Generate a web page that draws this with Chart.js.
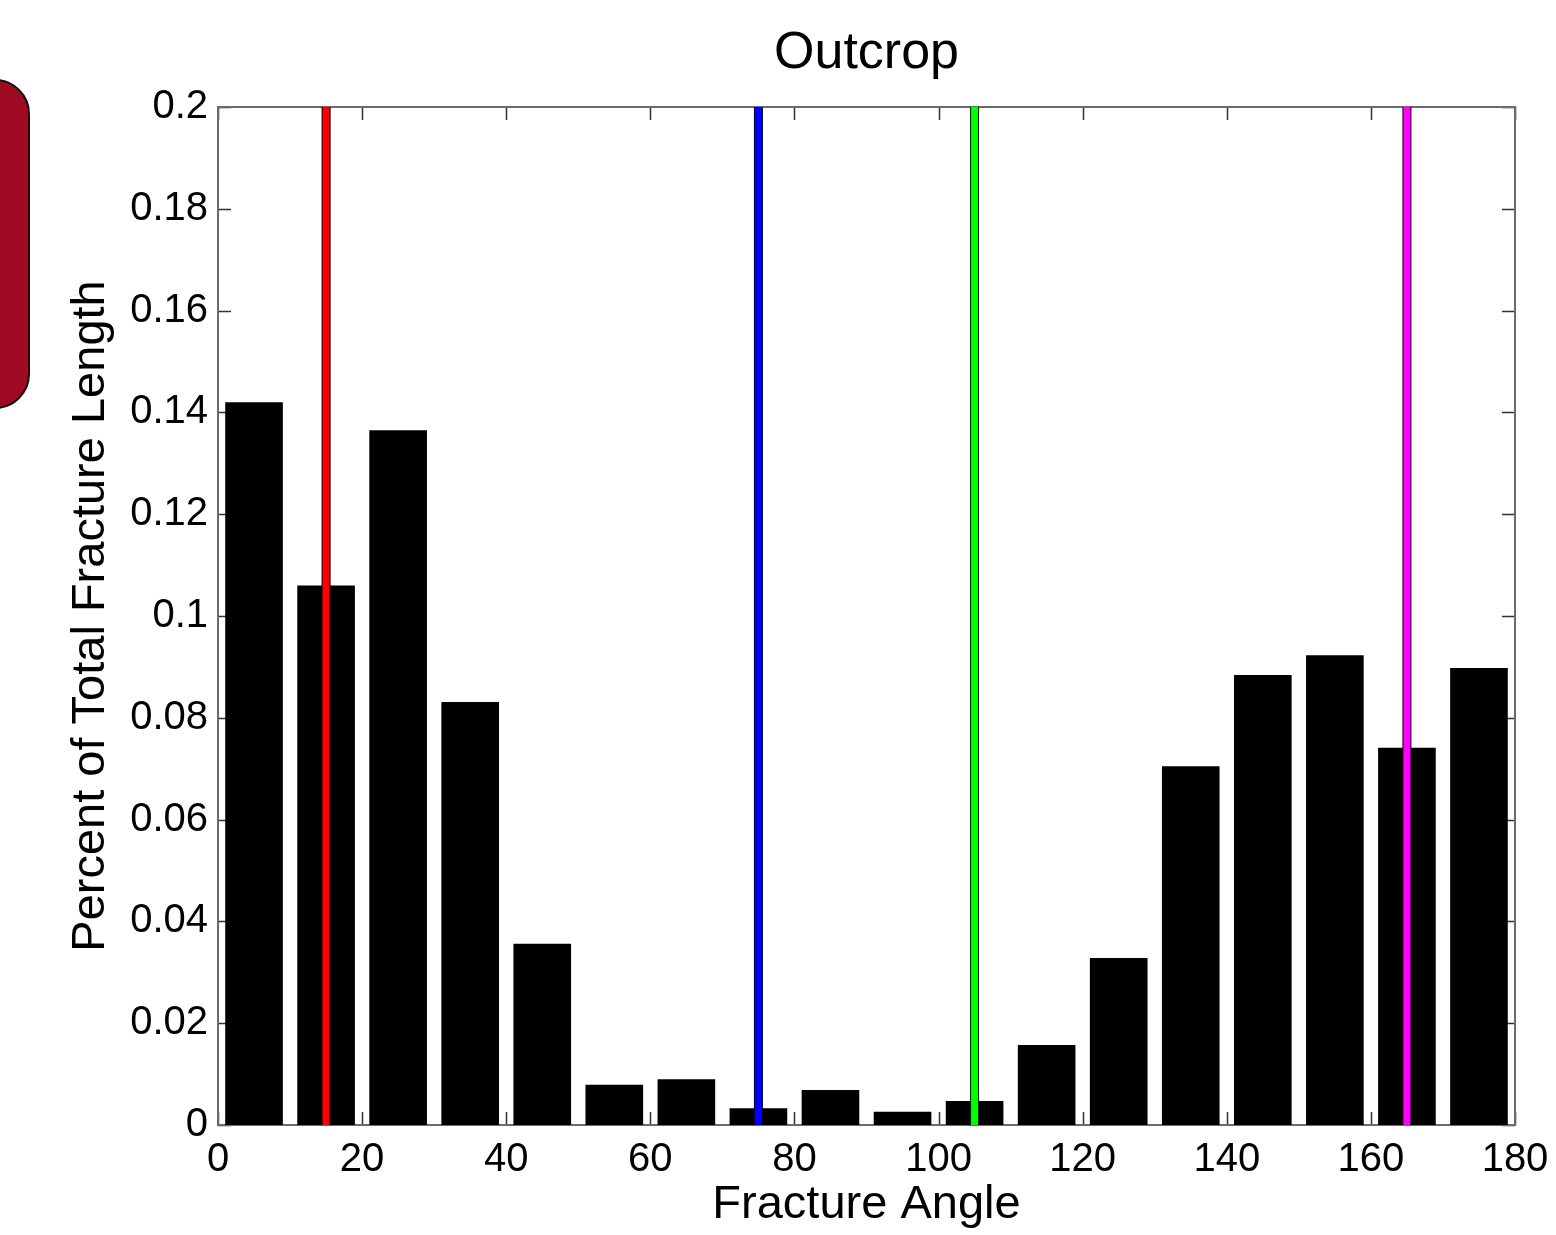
<!DOCTYPE html>
<html>
<head>
<meta charset="utf-8">
<script src="https://cdn.jsdelivr.net/npm/chart.js@4/dist/chart.umd.min.js"></script>
<style>
  body { margin: 0; background: #fff; overflow: hidden; }
  #wrap { position: relative; width: 1556px; height: 1235px; }
  #tab {
    position: absolute; left: -40px; top: 79px; width: 66px; height: 326px;
    background: #A00A23; border: 2px solid #111; border-radius: 40px;
  }
  canvas { position: absolute; left: 0; top: 0; }
</style>
</head>
<body>
<div id="wrap">
  <div id="tab"></div>
  <canvas id="histChart" width="1556" height="1235"></canvas>
</div>
<script>
// bin centres (degrees) and fraction of total fracture length per bin
const binCenters = [5, 15, 25, 35, 45, 55, 65, 75, 85, 95, 105, 115, 125, 135, 145, 155, 165, 175];
const binValues = [0.142, 0.106, 0.1365, 0.0831, 0.0356, 0.0079, 0.009, 0.0033, 0.0069,
                   0.0026, 0.0047, 0.0157, 0.0328, 0.0705, 0.0884, 0.0923, 0.0741, 0.0898];

// reference directions drawn as vertical lines
const markerAngles = [15, 75, 105, 165];
const markerColors = ['#FF0000', '#0000FF', '#00FF00', '#FF00FF'];

const xTicks = [0, 20, 40, 60, 80, 100, 120, 140, 160, 180];
const yTicks = [0, 0.02, 0.04, 0.06, 0.08, 0.1, 0.12, 0.14, 0.16, 0.18, 0.2];

const FONT = 'Arial, "Liberation Sans", Helvetica, sans-serif';

// MATLAB-ish box with inward ticks, drawn under the bars
const axesBox = {
  id: 'axesBox',
  beforeDatasetsDraw(chart) {
    const {ctx, chartArea: a, scales: {x, y}} = chart;
    const len = 13;
    ctx.save();
    ctx.strokeStyle = '#333';
    ctx.lineWidth = 1.5;
    ctx.beginPath();
    xTicks.forEach(v => {
      const px = Math.round(x.getPixelForValue(v)) + 0.5;
      ctx.moveTo(px, a.bottom); ctx.lineTo(px, a.bottom - len);
      ctx.moveTo(px, a.top); ctx.lineTo(px, a.top + len);
    });
    yTicks.forEach(v => {
      const py = Math.round(y.getPixelForValue(v)) + 0.5;
      ctx.moveTo(a.left, py); ctx.lineTo(a.left + len, py);
      ctx.moveTo(a.right, py); ctx.lineTo(a.right - len, py);
    });
    ctx.stroke();
    ctx.strokeStyle = '#6b6b6b';
    ctx.lineWidth = 2;
    ctx.strokeRect(a.left, a.top, a.right - a.left, a.bottom - a.top);
    ctx.restore();
  }
};

// coloured direction lines with thin black edge, on top of the bars
const markerLines = {
  id: 'markerLines',
  afterDatasetsDraw(chart) {
    const {ctx, chartArea: a, scales: {x}} = chart;
    ctx.save();
    markerAngles.forEach((ang, i) => {
      const px = x.getPixelForValue(ang);
      ctx.fillStyle = '#000';
      ctx.fillRect(px - 4.5, a.top, 9, a.bottom - a.top);
      ctx.fillStyle = markerColors[i];
      ctx.fillRect(px - 3.5, a.top, 7, a.bottom - a.top);
    });
    ctx.restore();
  }
};

const ctx = document.getElementById('histChart').getContext('2d');
new Chart(ctx, {
  type: 'bar',
  data: {
    datasets: [{
      data: binCenters.map((c, i) => ({x: c, y: binValues[i]})),
      backgroundColor: '#000',
      borderWidth: 0,
      barPercentage: 0.8,
      categoryPercentage: 1
    }]
  },
  options: {
    responsive: false,
    animation: false,
    layout: {padding: {left: 0, right: 41, top: 0, bottom: 0}},
    plugins: {
      legend: {display: false},
      tooltip: {enabled: false},
      title: {
        display: true,
        fullSize: false,
        text: 'Outcrop',
        color: '#000',
        font: {family: FONT, size: 52, weight: 'normal', lineHeight: 1.2},
        padding: {top: 22, bottom: 22.6}
      }
    },
    scales: {
      x: {
        type: 'linear',
        min: 0, max: 180,
        offset: false,
        grid: {display: false, drawTicks: false, offset: false},
        border: {display: false},
        afterBuildTicks: s => { s.ticks = xTicks.map(v => ({value: v})); },
        ticks: {color: '#000', padding: 11, maxRotation: 0, autoSkip: false,
                font: {family: FONT, size: 40}},
        title: {display: true, text: 'Fracture Angle', color: '#000',
                font: {family: FONT, size: 47, lineHeight: 1.2}, padding: {top: 0, bottom: 2}},
        afterFit: s => { s.height = 110; s.paddingLeft = 0; s.paddingRight = 0; }
      },
      y: {
        min: 0, max: 0.2,
        grid: {display: false, drawTicks: false},
        border: {display: false},
        afterBuildTicks: s => { s.ticks = yTicks.map(v => ({value: v})); },
        ticks: {color: '#000', padding: 10, font: {family: FONT, size: 40},
                callback: v => String(+v.toFixed(2))},
        title: {display: true, text: 'Percent of Total Fracture Length', color: '#000',
                font: {family: FONT, size: 47, lineHeight: 1.2}, padding: {top: 63, bottom: 0}},
        afterFit: s => { s.width = 218; s.paddingTop = 0; s.paddingBottom = 0; }
      }
    }
  },
  plugins: [axesBox, markerLines]
});
</script>
</body>
</html>
